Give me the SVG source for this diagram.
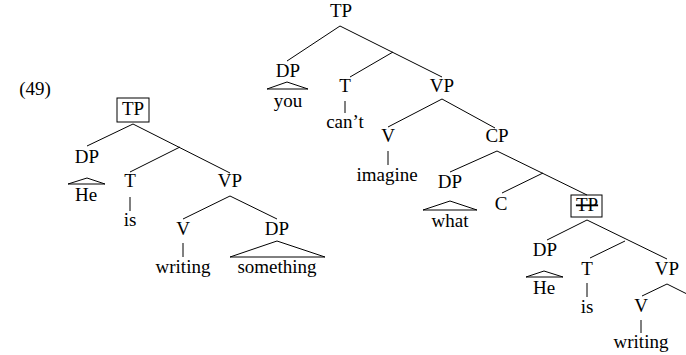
<svg xmlns="http://www.w3.org/2000/svg" width="686" height="355" viewBox="0 0 686 355">
<style>
text{font-family:"Liberation Serif","DejaVu Serif",serif;font-size:19px;fill:#000;text-anchor:middle}
line,polygon,.box{stroke:#000;stroke-width:1;fill:none}
</style>
<rect x="0" y="0" width="686" height="355" fill="#fff"/>
<text x="35" y="95">(49)</text>
<g id="connectors">
<line x1="133" y1="124" x2="87" y2="146"/>
<line x1="133" y1="124" x2="230" y2="173"/>
<line x1="180" y1="147" x2="130" y2="172"/>
<line x1="230" y1="196" x2="183" y2="219"/>
<line x1="230" y1="196" x2="277" y2="219"/>
<line x1="340" y1="26" x2="287" y2="61"/>
<line x1="340" y1="26" x2="442" y2="77"/>
<line x1="393" y1="52" x2="350" y2="77"/>
<line x1="442" y1="99" x2="388" y2="127"/>
<line x1="442" y1="99" x2="495" y2="128"/>
<line x1="497" y1="151" x2="450" y2="172"/>
<line x1="497" y1="151" x2="587" y2="195"/>
<line x1="543" y1="173" x2="502" y2="193"/>
<line x1="587" y1="220" x2="547" y2="240"/>
<line x1="587" y1="220" x2="667" y2="259"/>
<line x1="625" y1="241" x2="590" y2="258"/>
<line x1="667" y1="284" x2="642" y2="296"/>
<line x1="667" y1="284" x2="691" y2="296"/>
</g>
<g id="L-TP"><rect class="box" x="117" y="98" width="32" height="24"/><text x="133" y="115">TP</text></g>
<g id="L-DP"><text x="87" y="163">DP</text><polygon points="68,184 87,178 105,184"/><text x="86" y="201">He</text></g>
<g id="L-T"><text x="130" y="187">T</text><line x1="130" y1="197" x2="130" y2="211"/><text x="130" y="226">is</text></g>
<g id="L-VP"><text x="230" y="187">VP</text></g>
<g id="L-V"><text x="183" y="235">V</text><line x1="183" y1="243" x2="183" y2="257"/><text x="183" y="273">writing</text></g>
<g id="L-DP2"><text x="277" y="235">DP</text><polygon points="230,257 277,241 325,257"/><text x="277" y="273">something</text></g>
<g id="R-TP"><text x="341" y="17">TP</text></g>
<g id="R-DP"><text x="288" y="77">DP</text><polygon points="267,89 287,82 308,89"/><text x="288" y="107">you</text></g>
<g id="R-T"><text x="345" y="92">T</text><line x1="345" y1="101" x2="345" y2="113"/><text x="345" y="128">can’t</text></g>
<g id="R-VP"><text x="442" y="92">VP</text></g>
<g id="R-V"><text x="388" y="142">V</text><line x1="388" y1="151" x2="388" y2="165"/><text x="387" y="181">imagine</text></g>
<g id="R-CP"><text x="497" y="142">CP</text></g>
<g id="R-DP2"><text x="450" y="188">DP</text><polygon points="423,210 450,201 477,210"/><text x="450" y="227">what</text></g>
<g id="R-C"><text x="501" y="210">C</text></g>
<g id="R-TP2"><rect class="box" x="571" y="195" width="31" height="22"/><text x="587" y="211" text-decoration="line-through">TP</text></g>
<g id="R-DP3"><text x="545" y="256">DP</text><polygon points="526,277 544,271 563,277"/><text x="544" y="294">He</text></g>
<g id="R-T3"><text x="587" y="275">T</text><line x1="587" y1="283" x2="587" y2="297"/><text x="587" y="313">is</text></g>
<g id="R-VP3"><text x="667" y="275">VP</text></g>
<g id="R-V3"><text x="641" y="312">V</text><line x1="641" y1="320" x2="641" y2="333"/><text x="641" y="348">writing</text></g>
</svg>
